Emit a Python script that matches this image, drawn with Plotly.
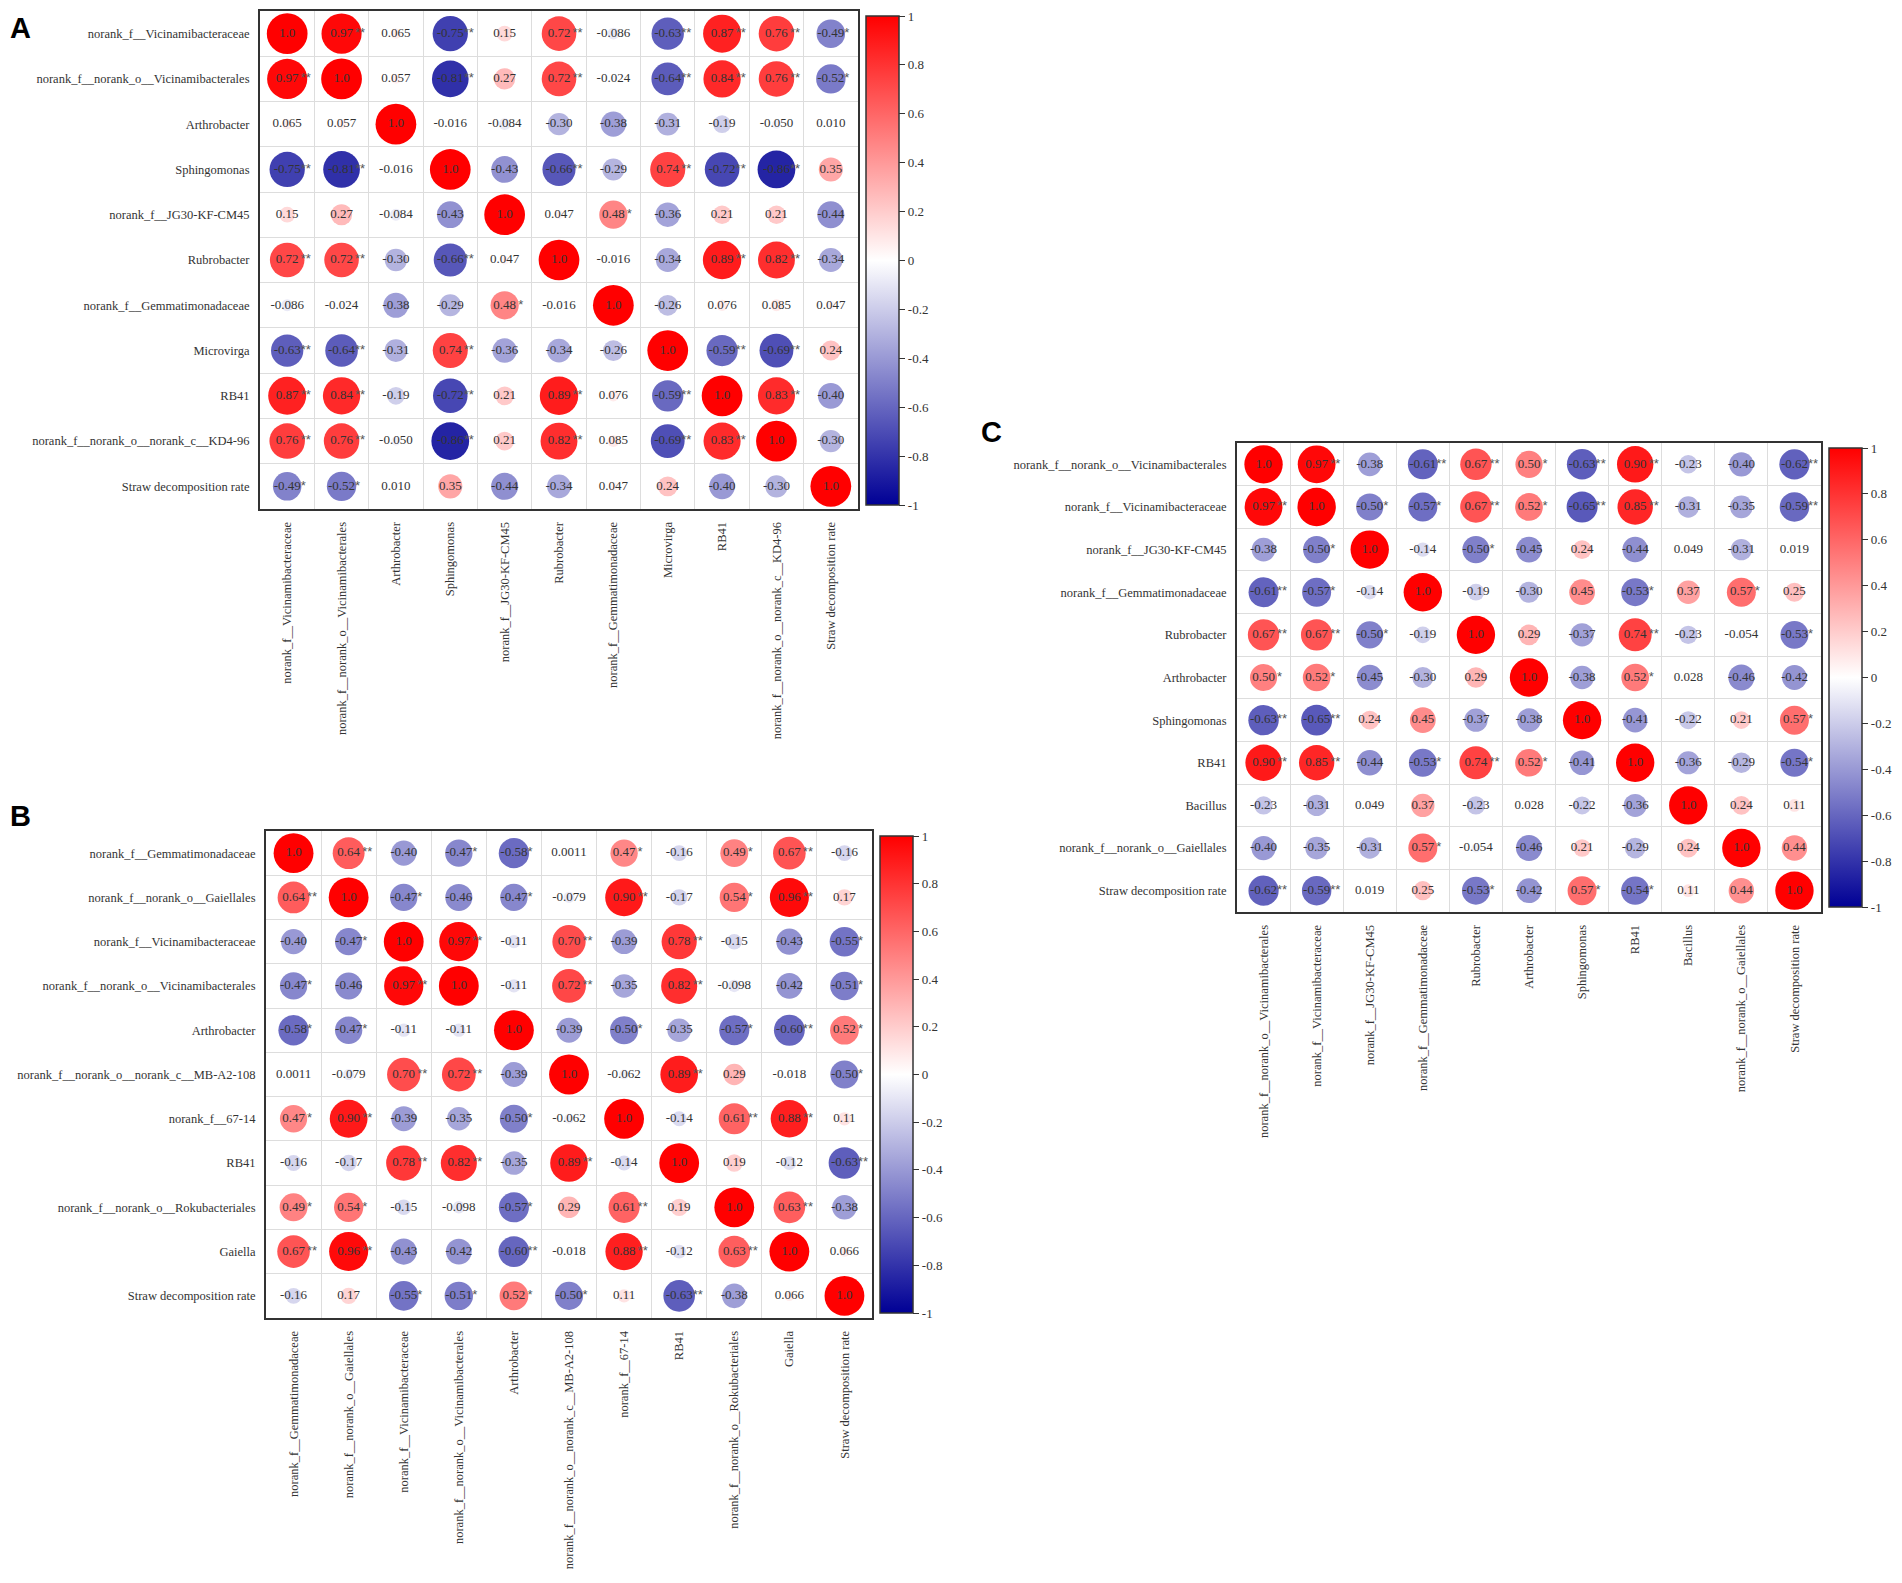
"""
Correlation heatmaps (circles) for three panels A / B / C.
"""
import math

import plotly.graph_objects as go

W, H = 1902, 1583
SERIF = "Liberation Serif"
TEXT_COLOR = "#333333"
COLORSCALE = [[0.0, "#000095"], [0.5, "#ffffff"], [1.0, "#ff0000"]]

CB_TICKS = [1, 0.8, 0.6, 0.4, 0.2, 0, -0.2, -0.4, -0.6, -0.8, -1]
CB_LABELS = ["1", "0.8", "0.6", "0.4", "0.2", "0", "-0.2", "-0.4", "-0.6", "-0.8", "-1"]

# ---------------- panel A ----------------
LABELS_A = [
    "norank_f__Vicinamibacteraceae", "norank_f__norank_o__Vicinamibacterales",
    "Arthrobacter", "Sphingomonas", "norank_f__JG30-KF-CM45", "Rubrobacter",
    "norank_f__Gemmatimonadaceae", "Microvirga", "RB41",
    "norank_f__norank_o__norank_c__KD4-96", "Straw decomposition rate",
]
R_A = [
    [1.0, 0.97, 0.065, -0.75, 0.15, 0.72, -0.086, -0.63, 0.87, 0.76, -0.49],
    [0.97, 1.0, 0.057, -0.81, 0.27, 0.72, -0.024, -0.64, 0.84, 0.76, -0.52],
    [0.065, 0.057, 1.0, -0.016, -0.084, -0.30, -0.38, -0.31, -0.19, -0.050, 0.010],
    [-0.75, -0.81, -0.016, 1.0, -0.43, -0.66, -0.29, 0.74, -0.72, -0.86, 0.35],
    [0.15, 0.27, -0.084, -0.43, 1.0, 0.047, 0.48, -0.36, 0.21, 0.21, -0.44],
    [0.72, 0.72, -0.30, -0.66, 0.047, 1.0, -0.016, -0.34, 0.89, 0.82, -0.34],
    [-0.086, -0.024, -0.38, -0.29, 0.48, -0.016, 1.0, -0.26, 0.076, 0.085, 0.047],
    [-0.63, -0.64, -0.31, 0.74, -0.36, -0.34, -0.26, 1.0, -0.59, -0.69, 0.24],
    [0.87, 0.84, -0.19, -0.72, 0.21, 0.89, 0.076, -0.59, 1.0, 0.83, -0.40],
    [0.76, 0.76, -0.050, -0.86, 0.21, 0.82, 0.085, -0.69, 0.83, 1.0, -0.30],
    [-0.49, -0.52, 0.010, 0.35, -0.44, -0.34, 0.047, 0.24, -0.40, -0.30, 1.0],
]
SIG_A = [
    [0, 2, 0, 2, 0, 2, 0, 2, 2, 2, 1],
    [2, 0, 0, 2, 0, 2, 0, 2, 2, 2, 1],
    [0, 0, 0, 0, 0, 0, 0, 0, 0, 0, 0],
    [2, 2, 0, 0, 0, 2, 0, 2, 2, 2, 0],
    [0, 0, 0, 0, 0, 0, 1, 0, 0, 0, 0],
    [2, 2, 0, 2, 0, 0, 0, 0, 2, 2, 0],
    [0, 0, 0, 0, 1, 0, 0, 0, 0, 0, 0],
    [2, 2, 0, 2, 0, 0, 0, 0, 2, 2, 0],
    [2, 2, 0, 2, 0, 2, 0, 2, 0, 2, 0],
    [2, 2, 0, 2, 0, 2, 0, 2, 2, 0, 0],
    [1, 1, 0, 0, 0, 0, 0, 0, 0, 0, 0],
]

# ---------------- panel B ----------------
LABELS_B = [
    "norank_f__Gemmatimonadaceae", "norank_f__norank_o__Gaiellales",
    "norank_f__Vicinamibacteraceae", "norank_f__norank_o__Vicinamibacterales",
    "Arthrobacter", "norank_f__norank_o__norank_c__MB-A2-108", "norank_f__67-14",
    "RB41", "norank_f__norank_o__Rokubacteriales", "Gaiella", "Straw decomposition rate",
]
R_B = [
    [1.0, 0.64, -0.40, -0.47, -0.58, 0.0011, 0.47, -0.16, 0.49, 0.67, -0.16],
    [0.64, 1.0, -0.47, -0.46, -0.47, -0.079, 0.90, -0.17, 0.54, 0.96, 0.17],
    [-0.40, -0.47, 1.0, 0.97, -0.11, 0.70, -0.39, 0.78, -0.15, -0.43, -0.55],
    [-0.47, -0.46, 0.97, 1.0, -0.11, 0.72, -0.35, 0.82, -0.098, -0.42, -0.51],
    [-0.58, -0.47, -0.11, -0.11, 1.0, -0.39, -0.50, -0.35, -0.57, -0.60, 0.52],
    [0.0011, -0.079, 0.70, 0.72, -0.39, 1.0, -0.062, 0.89, 0.29, -0.018, -0.50],
    [0.47, 0.90, -0.39, -0.35, -0.50, -0.062, 1.0, -0.14, 0.61, 0.88, 0.11],
    [-0.16, -0.17, 0.78, 0.82, -0.35, 0.89, -0.14, 1.0, 0.19, -0.12, -0.63],
    [0.49, 0.54, -0.15, -0.098, -0.57, 0.29, 0.61, 0.19, 1.0, 0.63, -0.38],
    [0.67, 0.96, -0.43, -0.42, -0.60, -0.018, 0.88, -0.12, 0.63, 1.0, 0.066],
    [-0.16, 0.17, -0.55, -0.51, 0.52, -0.50, 0.11, -0.63, -0.38, 0.066, 1.0],
]
SIG_B = [
    [0, 2, 0, 1, 1, 0, 1, 0, 1, 2, 0],
    [2, 0, 1, 0, 1, 0, 2, 0, 1, 2, 0],
    [0, 1, 0, 2, 0, 2, 0, 2, 0, 0, 1],
    [1, 0, 2, 0, 0, 2, 0, 2, 0, 0, 1],
    [1, 1, 0, 0, 0, 0, 1, 0, 1, 2, 1],
    [0, 0, 2, 2, 0, 0, 0, 2, 0, 0, 1],
    [1, 2, 0, 0, 1, 0, 0, 0, 2, 2, 0],
    [0, 0, 2, 2, 0, 2, 0, 0, 0, 0, 2],
    [1, 1, 0, 0, 1, 0, 2, 0, 0, 2, 0],
    [2, 2, 0, 0, 2, 0, 2, 0, 2, 0, 0],
    [0, 0, 1, 1, 1, 1, 0, 2, 0, 0, 0],
]

# ---------------- panel C ----------------
LABELS_C = [
    "norank_f__norank_o__Vicinamibacterales", "norank_f__Vicinamibacteraceae",
    "norank_f__JG30-KF-CM45", "norank_f__Gemmatimonadaceae", "Rubrobacter",
    "Arthrobacter", "Sphingomonas", "RB41", "Bacillus",
    "norank_f__norank_o__Gaiellales", "Straw decomposition rate",
]
R_C = [
    [1.0, 0.97, -0.38, -0.61, 0.67, 0.50, -0.63, 0.90, -0.23, -0.40, -0.62],
    [0.97, 1.0, -0.50, -0.57, 0.67, 0.52, -0.65, 0.85, -0.31, -0.35, -0.59],
    [-0.38, -0.50, 1.0, -0.14, -0.50, -0.45, 0.24, -0.44, 0.049, -0.31, 0.019],
    [-0.61, -0.57, -0.14, 1.0, -0.19, -0.30, 0.45, -0.53, 0.37, 0.57, 0.25],
    [0.67, 0.67, -0.50, -0.19, 1.0, 0.29, -0.37, 0.74, -0.23, -0.054, -0.53],
    [0.50, 0.52, -0.45, -0.30, 0.29, 1.0, -0.38, 0.52, 0.028, -0.46, -0.42],
    [-0.63, -0.65, 0.24, 0.45, -0.37, -0.38, 1.0, -0.41, -0.22, 0.21, 0.57],
    [0.90, 0.85, -0.44, -0.53, 0.74, 0.52, -0.41, 1.0, -0.36, -0.29, -0.54],
    [-0.23, -0.31, 0.049, 0.37, -0.23, 0.028, -0.22, -0.36, 1.0, 0.24, 0.11],
    [-0.40, -0.35, -0.31, 0.57, -0.054, -0.46, 0.21, -0.29, 0.24, 1.0, 0.44],
    [-0.62, -0.59, 0.019, 0.25, -0.53, -0.42, 0.57, -0.54, 0.11, 0.44, 1.0],
]
SIG_C = [
    [0, 2, 0, 2, 2, 1, 2, 2, 0, 0, 2],
    [2, 0, 1, 1, 2, 1, 2, 2, 0, 0, 2],
    [0, 1, 0, 0, 1, 0, 0, 0, 0, 0, 0],
    [2, 1, 0, 0, 0, 0, 0, 1, 0, 1, 0],
    [2, 2, 1, 0, 0, 0, 0, 2, 0, 0, 1],
    [1, 1, 0, 0, 0, 0, 0, 1, 0, 0, 0],
    [2, 2, 0, 0, 0, 0, 0, 0, 0, 0, 1],
    [2, 2, 0, 1, 2, 1, 0, 0, 0, 0, 1],
    [0, 0, 0, 0, 0, 0, 0, 0, 0, 0, 0],
    [0, 0, 0, 1, 0, 0, 0, 0, 0, 0, 0],
    [2, 2, 0, 0, 1, 0, 1, 1, 0, 0, 0],
]

# pixel boxes: (left, top, right, bottom) of matrix, and colorbar (left, top, bottom)
PANELS = [
    ("A", LABELS_A, R_A, SIG_A, (260, 11, 858, 509), (866, 16, 505), (20, 28)),
    ("B", LABELS_B, R_B, SIG_B, (266, 831, 872, 1318), (880, 836, 1313), (20, 816)),
    ("C", LABELS_C, R_C, SIG_C, (1237, 443, 1821, 912), (1829, 448, 907), (991, 432)),
]


def add_panel(fig, k, name, labels, r, sig, box, cbox, letter_pos):
    n = len(labels)
    sfx = "" if k == 1 else str(k)
    xa, ya = "x" + sfx, "y" + sfx
    cax = "coloraxis" + sfx
    left, top, right, bottom = box
    cell_h = (bottom - top) / n

    xs, ys, vals, sizes, texts, stars = [], [], [], [], [], []
    for i in range(n):
        for j in range(n):
            v = r[i][j]
            xs.append(j)
            ys.append(i)
            vals.append(v)
            sizes.append(math.sqrt(abs(v)) * 0.9 * cell_h)
            texts.append(f"{v:#.2g}")
            stars.append("*" * sig[i][j])

    fig.add_trace(go.Scatter(
        x=xs, y=ys, mode="markers", xaxis=xa, yaxis=ya, showlegend=False,
        marker=dict(size=sizes, color=vals, coloraxis=cax, line=dict(width=0), opacity=1),
        hoverinfo="skip",
    ))
    fig.add_trace(go.Scatter(
        x=xs, y=ys, mode="text", text=texts, xaxis=xa, yaxis=ya, showlegend=False,
        textfont=dict(family=SERIF, size=13, color=TEXT_COLOR), hoverinfo="skip",
    ))
    # stars sit right after the number (asterisk glyph is raised by itself)
    fig.add_trace(go.Scatter(
        x=xs, y=ys, mode="markers+text", text=stars, textposition="middle right",
        xaxis=xa, yaxis=ya, showlegend=False,
        marker=dict(size=20, opacity=0),
        textfont=dict(family="Liberation Sans", size=13, color="#555555"), hoverinfo="skip",
    ))

    axis_common = dict(
        range=[-0.5, n - 0.5], tickmode="array", tickvals=list(range(n)), ticktext=labels,
        showgrid=False, zeroline=False, ticks="",
        showline=True, mirror=True, linecolor="#333333", linewidth=2,
        tickfont=dict(family=SERIF, size=12.5, color=TEXT_COLOR),
        minor=dict(tickmode="linear", tick0=0.5, dtick=1, showgrid=True,
                   gridcolor="#dddddd", gridwidth=1),
        ticklabelstandoff=6, fixedrange=True,
    )
    fig.layout["xaxis" + sfx] = dict(
        axis_common, domain=[left / W, right / W], anchor=ya, side="bottom", tickangle=-90,
    )
    fig.layout["yaxis" + sfx] = dict(
        axis_common, domain=[1 - bottom / H, 1 - top / H], anchor=xa,
        range=[n - 0.5, -0.5],
    )

    cl, ct, cb = cbox
    fig.layout[cax] = dict(
        cmin=-1, cmax=1, colorscale=COLORSCALE,
        colorbar=dict(
            x=cl / W, xanchor="left", y=1 - (ct + cb) / 2 / H, yanchor="middle",
            len=cb - ct, lenmode="pixels", thickness=33, xpad=0, ypad=0,
            outlinewidth=1.5, outlinecolor="#333333",
            ticks="outside", ticklen=6, tickcolor="#333333",
            tickvals=CB_TICKS, ticktext=CB_LABELS,
            tickfont=dict(family=SERIF, size=13, color=TEXT_COLOR),
        ),
    )

    fig.add_annotation(
        x=letter_pos[0] / W, y=1 - letter_pos[1] / H, xref="paper", yref="paper",
        text=f"<b>{name}</b>", showarrow=False, xanchor="center", yanchor="middle",
        font=dict(family="Liberation Sans", size=29, color="#000000"),
    )


fig = go.Figure()
for k, (name, labels, r, sig, box, cbox, lpos) in enumerate(PANELS, start=1):
    add_panel(fig, k, name, labels, r, sig, box, cbox, lpos)

fig.update_layout(
    width=W, height=H, margin=dict(l=0, r=0, t=0, b=0),
    paper_bgcolor="white", plot_bgcolor="white", hovermode=False,
)

# drop the page's default body margin so the figure sits at the window origin
fig.write_html(
    "out.html",
    config={"displayModeBar": False},
    post_script="document.body.style.margin='0';document.body.style.overflow='hidden';",
)
